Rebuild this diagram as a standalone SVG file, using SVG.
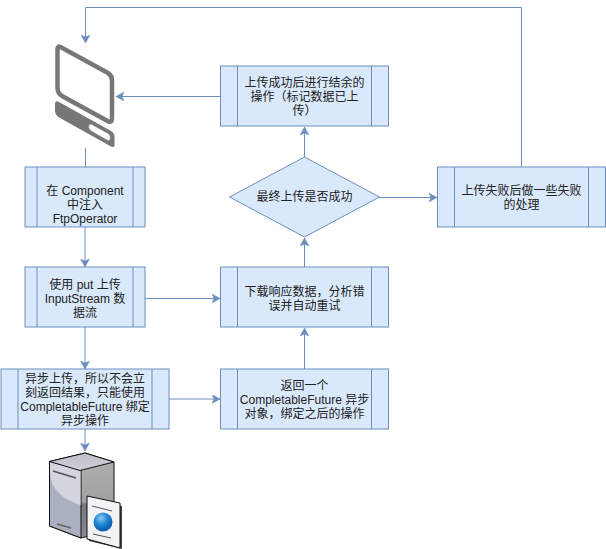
<svg xmlns="http://www.w3.org/2000/svg" width="606" height="549" viewBox="0 0 606 549">
<defs>
<marker id="a" markerUnits="userSpaceOnUse" markerWidth="9" markerHeight="10" refX="8" refY="4.5" orient="auto"><path d="M0 0L8 4.500L0 9L2 4.500Z" fill="#6c8ebf" stroke="#6c8ebf" stroke-width=".5"/></marker>
<linearGradient id="s" x1="0" y1="0" x2="0" y2="1"><stop offset="0" stop-color="#b0b2b2"/><stop offset=".58" stop-color="#9fa1a1"/><stop offset=".6" stop-color="#75787f"/><stop offset="1" stop-color="#858995"/></linearGradient>
<linearGradient id="t" x1="0" y1="0" x2="0" y2="1"><stop offset="0" stop-color="#bdbfc6"/><stop offset="1" stop-color="#cfd1d8"/></linearGradient>
<radialGradient id="b" cx=".4" cy=".3" r=".7"><stop offset="0" stop-color="#8ccbf0"/><stop offset=".5" stop-color="#1f86d4"/><stop offset="1" stop-color="#0a5aa8"/></radialGradient>
</defs>
<style>
.n{fill:#dae8fc;stroke:#6c8ebf;stroke-width:1}
.c{fill:none;stroke:#6c8ebf;stroke-width:1;marker-end:url(#a)}
.l{fill:none;stroke:#6c8ebf;stroke-width:1}
text{font-family:"Liberation Sans","Noto Sans CJK SC",sans-serif;font-size:12px;fill:#222;text-anchor:middle}
</style>
<g id="connectors">
<path class="c" d="M521.500 167V7.500H85.500V43"/>
<path class="c" d="M220.500 96.500H116"/>
<path class="l" d="M85.500 148V167"/>
<path class="c" d="M85 227V267"/>
<path class="c" d="M85 327V369"/>
<path class="c" d="M85 429V451"/>
<path class="c" d="M145 298.500H220"/>
<path class="c" d="M169 399H220"/>
<path class="c" d="M304.500 369V328"/>
<path class="c" d="M304.500 267V238"/>
<path class="c" d="M304.500 157V127"/>
<path class="c" d="M379 197.500H437"/>
</g>
<g id="computer">
<path d="M57.500 49Q57.500 45.500 60.500 47L108 73Q112 75.500 112 80V118Q112 123 108.500 121.500L62 96Q57.500 93 57.500 88Z" fill="none" stroke="#777" stroke-width="4.500" stroke-linejoin="round"/>
<path d="M55 104Q55 100 59 102L111 131Q114.500 133 114.500 137V145Q114.500 148 111 146.500L60 118Q55 115 55 111Z" fill="#777"/>
<path d="M89 125Q90 123.500 92 124.500L109 134Q111 136 110 140Q108 141 106 139.500L91 131Q87.500 128 89 125Z" fill="#fff" stroke="#777" stroke-width=".5"/>
</g>
<g id="n1"><rect class="n" x="25" y="167" width="120" height="60"/><path class="l" d="M37 167V227M133 167V227"/>
<text x="85" y="195">在 Component</text><text x="85" y="209">中注入</text><text x="85" y="223">FtpOperator</text></g>
<g id="n2"><rect class="n" x="25" y="267" width="120" height="60"/><path class="l" d="M37 267V327M133 267V327"/>
<text x="85" y="289">使用 put 上传</text><text x="85" y="303">InputStream 数</text><text x="85" y="317">据流</text></g>
<g id="n3"><rect class="n" x="1" y="369" width="168" height="60"/><path class="l" d="M18 369V429M152 369V429"/>
<text x="85" y="383">异步上传，所以不会立</text><text x="85" y="397">刻返回结果，只能使用</text><text x="85" y="411">CompletableFuture 绑定</text><text x="85" y="425">异步操作</text></g>
<g id="n4"><rect class="n" x="220.500" y="369" width="168" height="60"/><path class="l" d="M237.500 369V429M371.500 369V429"/>
<text x="304.500" y="390">返回一个</text><text x="304.500" y="404">CompletableFuture 异步</text><text x="304.500" y="418">对象，绑定之后的操作</text></g>
<g id="n5"><rect class="n" x="220.500" y="267" width="168" height="60"/><path class="l" d="M237.500 267V327M371.500 267V327"/>
<text x="304.500" y="296">下载响应数据，分析错</text><text x="304.500" y="310">误并自动重试</text></g>
<g id="n6"><path class="n" d="M304.500 157L379.500 197L304.500 237L229.500 197Z"/>
<text x="304.500" y="201">最终上传是否成功</text></g>
<g id="n7"><rect class="n" x="220.500" y="66" width="168" height="60"/><path class="l" d="M237.500 66V126M371.500 66V126"/>
<text x="304.500" y="87">上传成功后进行结余的</text><text x="304.500" y="101">操作（标记数据已上</text><text x="304.500" y="115">传）</text></g>
<g id="n8"><rect class="n" x="437.500" y="167" width="168" height="60"/><path class="l" d="M454.500 167V227M588.500 167V227"/>
<text x="521.500" y="195">上传失败后做一些失败</text><text x="521.500" y="209">的处理</text></g>
<g id="server" stroke-linejoin="round">
<path d="M49.500 461.500L85 453L114 462L114 530L81 538L49.500 526Z" fill="url(#s)" stroke="#111"/>
<path d="M49.500 461.500L81 470V538L49.500 526Z" fill="#aab0bf" stroke="#111"/>
<path d="M50 462L80.500 470.500V505Q60 499 52.500 484Q50 478 50 470Z" fill="#d3d6df"/>
<path d="M49.500 461.500L85 453L114 462L80 470.500Z" fill="url(#t)" stroke="#111"/>
<path d="M53 471L76 478" stroke="#555" stroke-width="1.500"/>
<path d="M57 524L71 528" stroke="#666" stroke-width="1.500"/>
<path d="M89 498L122 506V549L89 541Z" fill="#444"/>
<path d="M87 496L120 503V548L87 539Z" fill="#f2f3f5" stroke="#111"/>
<path d="M92 506L112 511M93 534L111 538" stroke="#555" stroke-width="1"/>
<circle cx="103" cy="522" r="9.500" fill="url(#b)"/>
</g>
</svg>
